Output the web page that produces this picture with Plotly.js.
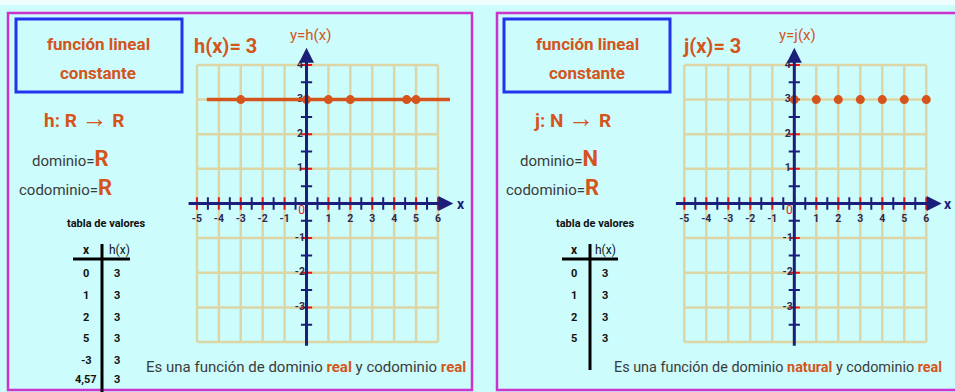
<!DOCTYPE html>
<html>
<head>
<meta charset="utf-8">
<script src="https://cdn.plot.ly/plotly-3.0.1.min.js"></script>
<style>html,body{margin:0;padding:0;background:#ccfcfc;}#chart{width:955px;height:392px;}</style>
</head>
<body>
<div id="chart"></div>
<script>
// ---------- data ----------
const gridX = [-5,-4,-3,-2,-1,0,1,2,3,4,5,6];
const gridY = [-4,-3,-2,-1,0,1,2,3,4];
const xIntTicks = [-5,-4,-3,-2,-1,0,1,2,3,4,5,6];
const xHalfTicks = [-4.5,-3.5,-2.5,-1.5,-0.5,0.5,1.5,2.5,3.5,4.5,5.5];
const yIntTicks = [4,3,2,1,-1,-2,-3];
const yHalfTicks = [3.5,2.5,1.5,0.5,-0.5,-1.5,-2.5,-3.5];
const xTickLabelVals = [-5,-4,-3,-2,-1,1,2,3,4,5,6];
const xTickLabels = ['-5','-4','-3','-2','-1','1','2','3','4','5','6'];
const yTickLabelVals = [4,3,2,1,-1,-2,-3];
const yTickLabels = ['4','3','2','1','-1','-2','-3'];

const hLineX = [-4.55, 6.55];
const hLineY = [3, 3];
const hX = [0, 1, 2, 5, -3, 4.57];
const hY = [3, 3, 3, 3, 3, 3];
const hTableX = ['0','1','2','5','-3','4,57'];
const hTableY = ['3','3','3','3','3','3'];

const jX = [0, 1, 2, 3, 4, 5, 6];
const jY = [3, 3, 3, 3, 3, 3, 3];
const jTableX = ['0','1','2','5'];
const jTableY = ['3','3','3','3'];

// ---------- styles ----------
const W = 955, H = 392;
const px = x => x / W;
const py = y => 1 - y / H;
const ORANGE = '#d4541c', NAVY = '#1c1f7a', RED = '#ee1515', GRID = '#dcd6a6',
      MAG = '#cc33cc', BLUE = '#2233ee', GREY = '#3b3b3b', BG = '#ccfcfc';
const FONT = "Roboto, 'Liberation Sans', sans-serif";

const traces = [];
const shapes = [];
const annotations = [];

function panel(xa, ya) {
  const xr = xa, yr = ya;
  gridX.forEach(g => shapes.push({type:'line', xref:xr, yref:yr, x0:g, x1:g, y0:-4, y1:4,
    line:{color:GRID, width:2.5}, layer:'below'}));
  gridY.forEach(g => shapes.push({type:'line', xref:xr, yref:yr, x0:-5, x1:6, y0:g, y1:g,
    line:{color:GRID, width:2.5}, layer:'below'}));
  annotations.push({xref:xr, yref:yr, axref:xr, ayref:yr, x:6.7, y:0, ax:-5.45, ay:0,
    showarrow:true, arrowhead:2, arrowsize:1, arrowwidth:3, arrowcolor:NAVY, text:''});
  annotations.push({xref:xr, yref:yr, axref:xr, ayref:yr, x:0, y:4.5, ax:0, ay:-4.15,
    showarrow:true, arrowhead:2, arrowsize:1, arrowwidth:3, arrowcolor:NAVY, text:''});
  traces.push({x:xHalfTicks, y:xHalfTicks.map(()=>0), xaxis:xa, yaxis:ya, mode:'markers', hoverinfo:'skip',
    marker:{symbol:'line-ns', size:9, line:{width:2, color:NAVY}}});
  traces.push({x:xIntTicks, y:xIntTicks.map(()=>0), xaxis:xa, yaxis:ya, mode:'markers', hoverinfo:'skip',
    marker:{symbol:'line-ns', size:9, line:{width:2, color:RED}}});
  traces.push({x:yHalfTicks.map(()=>0), y:yHalfTicks, xaxis:xa, yaxis:ya, mode:'markers', hoverinfo:'skip',
    marker:{symbol:'line-ew', size:8, line:{width:2, color:NAVY}}});
  traces.push({x:yIntTicks.map(()=>0), y:yIntTicks, xaxis:xa, yaxis:ya, mode:'markers', hoverinfo:'skip',
    marker:{symbol:'line-ew', size:8, line:{width:2, color:RED}}});
  traces.push({x:xTickLabelVals, y:xTickLabelVals.map(()=>-0.45), xaxis:xa, yaxis:ya, mode:'text',
    text:xTickLabels, textposition:'middle center', cliponaxis:false, hoverinfo:'skip',
    textfont:{family:FONT, size:10.5, color:'#2a2a55', weight:'bold'}});
  traces.push({x:yTickLabelVals.map(()=>-0.3), y:yTickLabelVals, xaxis:xa, yaxis:ya, mode:'text',
    text:yTickLabels, textposition:'middle center', cliponaxis:false, hoverinfo:'skip',
    textfont:{family:FONT, size:10.5, color:'#2a2a55', weight:'bold'}});
  traces.push({x:[-0.22], y:[-0.22], xaxis:xa, yaxis:ya, mode:'text', text:['0'],
    textposition:'middle center', cliponaxis:false, hoverinfo:'skip',
    textfont:{family:FONT, size:12, color:RED}});
}

panel('x', 'y');
traces.push({x:hLineX, y:hLineY, xaxis:'x', yaxis:'y', mode:'lines', hoverinfo:'skip',
  line:{color:ORANGE, width:3.5}});
traces.push({x:hX, y:hY, xaxis:'x', yaxis:'y', mode:'markers', hoverinfo:'skip',
  marker:{color:ORANGE, size:9}});
panel('x2', 'y2');
traces.push({x:jX, y:jY, xaxis:'x2', yaxis:'y2', mode:'markers', hoverinfo:'skip',
  marker:{color:ORANGE, size:9}});

// frames
shapes.push({type:'rect', xref:'paper', yref:'paper', x0:0, x1:1, y0:py(5), y1:1,
  fillcolor:'#eefefe', line:{width:0}, layer:'below'});
shapes.push({type:'rect', xref:'paper', yref:'paper', x0:px(8), x1:px(472), y0:py(390), y1:py(13),
  line:{color:MAG, width:2.5}, layer:'below'});
shapes.push({type:'rect', xref:'paper', yref:'paper', x0:px(497), x1:px(975), y0:py(390), y1:py(13),
  line:{color:MAG, width:2.5}, layer:'below'});
shapes.push({type:'rect', xref:'paper', yref:'paper', x0:px(16), x1:px(182), y0:py(92), y1:py(19),
  line:{color:BLUE, width:3}, layer:'below'});
shapes.push({type:'rect', xref:'paper', yref:'paper', x0:px(504), x1:px(670), y0:py(92), y1:py(19),
  line:{color:BLUE, width:3}, layer:'below'});
shapes.push({type:'line', xref:'paper', yref:'paper', x0:px(73), x1:px(130), y0:py(259), y1:py(259),
  line:{color:'#000', width:3}});
shapes.push({type:'line', xref:'paper', yref:'paper', x0:px(102), x1:px(102), y0:py(244), y1:py(392),
  line:{color:'#000', width:3}});
shapes.push({type:'line', xref:'paper', yref:'paper', x0:px(562), x1:px(618), y0:py(259), y1:py(259),
  line:{color:'#000', width:3}});
shapes.push({type:'line', xref:'paper', yref:'paper', x0:px(590), x1:px(590), y0:py(244), y1:py(370),
  line:{color:'#000', width:3}});

function txt(x, y, text, size, color, opts) {
  annotations.push(Object.assign({xref:'paper', yref:'paper', x:px(x), y:py(y), text:text,
    showarrow:false, xanchor:'center', yanchor:'middle',
    font:{family:FONT, size:size, color:color}}, opts || {}));
}
const B = s => '<b>' + s + '</b>';
const OR = (s, sz) => '<span style="color:' + ORANGE + ';font-size:' + sz + 'px"><b>' + s + '</b></span>';
const ARROW = '<span style="font-size:26px"><b>→</b></span>';

// left panel texts
txt(98, 44, B('función lineal'), 17, ORANGE);
txt(98, 73, B('constante'), 17, ORANGE);
txt(225, 46, B('h(x)= 3'), 20, ORANGE);
txt(310, 35, 'y=h(x)', 15, ORANGE);
txt(84, 118, B('h: R ') + ARROW + B(' R'), 19, ORANGE);
txt(30, 158, 'dominio=' + OR('R', 22), 15, GREY, {xanchor:'left'});
txt(17, 187, 'codominio=' + OR('R', 22), 15, GREY, {xanchor:'left'});
txt(106, 223, B('tabla de valores'), 11, '#111');
txt(461, 204, B('x'), 14, NAVY);
txt(86, 250, B('x'), 12, '#111');
txt(119, 250, 'h(x)', 12, '#111');
hTableX.forEach((v, i) => {
  const yy = [273, 295, 317, 338, 360, 379][i];
  txt(86, yy, B(v), 11, '#111');
  txt(117, yy, B(hTableY[i]), 11, '#111');
});
txt(144, 367, 'Es una función de dominio ' + OR('real', 15) + ' y codominio ' + OR('real', 15),
  15, GREY, {xanchor:'left'});

// right panel texts
txt(587, 44, B('función lineal'), 17, ORANGE);
txt(587, 73, B('constante'), 17, ORANGE);
txt(712, 46, B('j(x)= 3'), 20, ORANGE);
txt(797, 35, 'y=j(x)', 15, ORANGE);
txt(572, 118, B('j: N ') + ARROW + B(' R'), 19, ORANGE);
txt(518, 158, 'dominio=' + OR('N', 22), 15, GREY, {xanchor:'left'});
txt(504, 187, 'codominio=' + OR('R', 22), 15, GREY, {xanchor:'left'});
txt(595, 223, B('tabla de valores'), 11, '#111');
txt(948, 204, B('x'), 14, NAVY);
txt(574, 250, B('x'), 12, '#111');
txt(605, 250, 'h(x)', 12, '#111');
jTableX.forEach((v, i) => {
  const yy = [273, 295, 317, 338][i];
  txt(574, yy, B(v), 11, '#111');
  txt(605, yy, B(jTableY[i]), 11, '#111');
});
txt(612, 367, 'Es una función de dominio ' + OR('natural', 14.4) + ' y codominio ' + OR('real', 14.4),
  14.4, GREY, {xanchor:'left'});

const axOff = {visible:false, showgrid:false, zeroline:false, fixedrange:true};
const layout = {
  width: W, height: H,
  margin: {l:0, r:0, t:0, b:0},
  paper_bgcolor: BG, plot_bgcolor: 'rgba(0,0,0,0)',
  showlegend: false,
  xaxis: Object.assign({range:[-5.6, 7.0], domain:[183.8/W, 459.9/W], anchor:'y'}, axOff),
  yaxis: Object.assign({range:[-4.3, 4.6], domain:[1-352.4/H, 1-44.2/H], anchor:'x'}, axOff),
  xaxis2: Object.assign({range:[-5.6, 7.0], domain:[671.1/W, 948.3/W], anchor:'y2'}, axOff),
  yaxis2: Object.assign({range:[-4.3, 4.6], domain:[1-352.4/H, 1-44.2/H], anchor:'x2'}, axOff),
  shapes: shapes,
  annotations: annotations
};
Plotly.newPlot('chart', traces, layout, {displayModeBar:false, staticPlot:true});
</script>
</body>
</html>
